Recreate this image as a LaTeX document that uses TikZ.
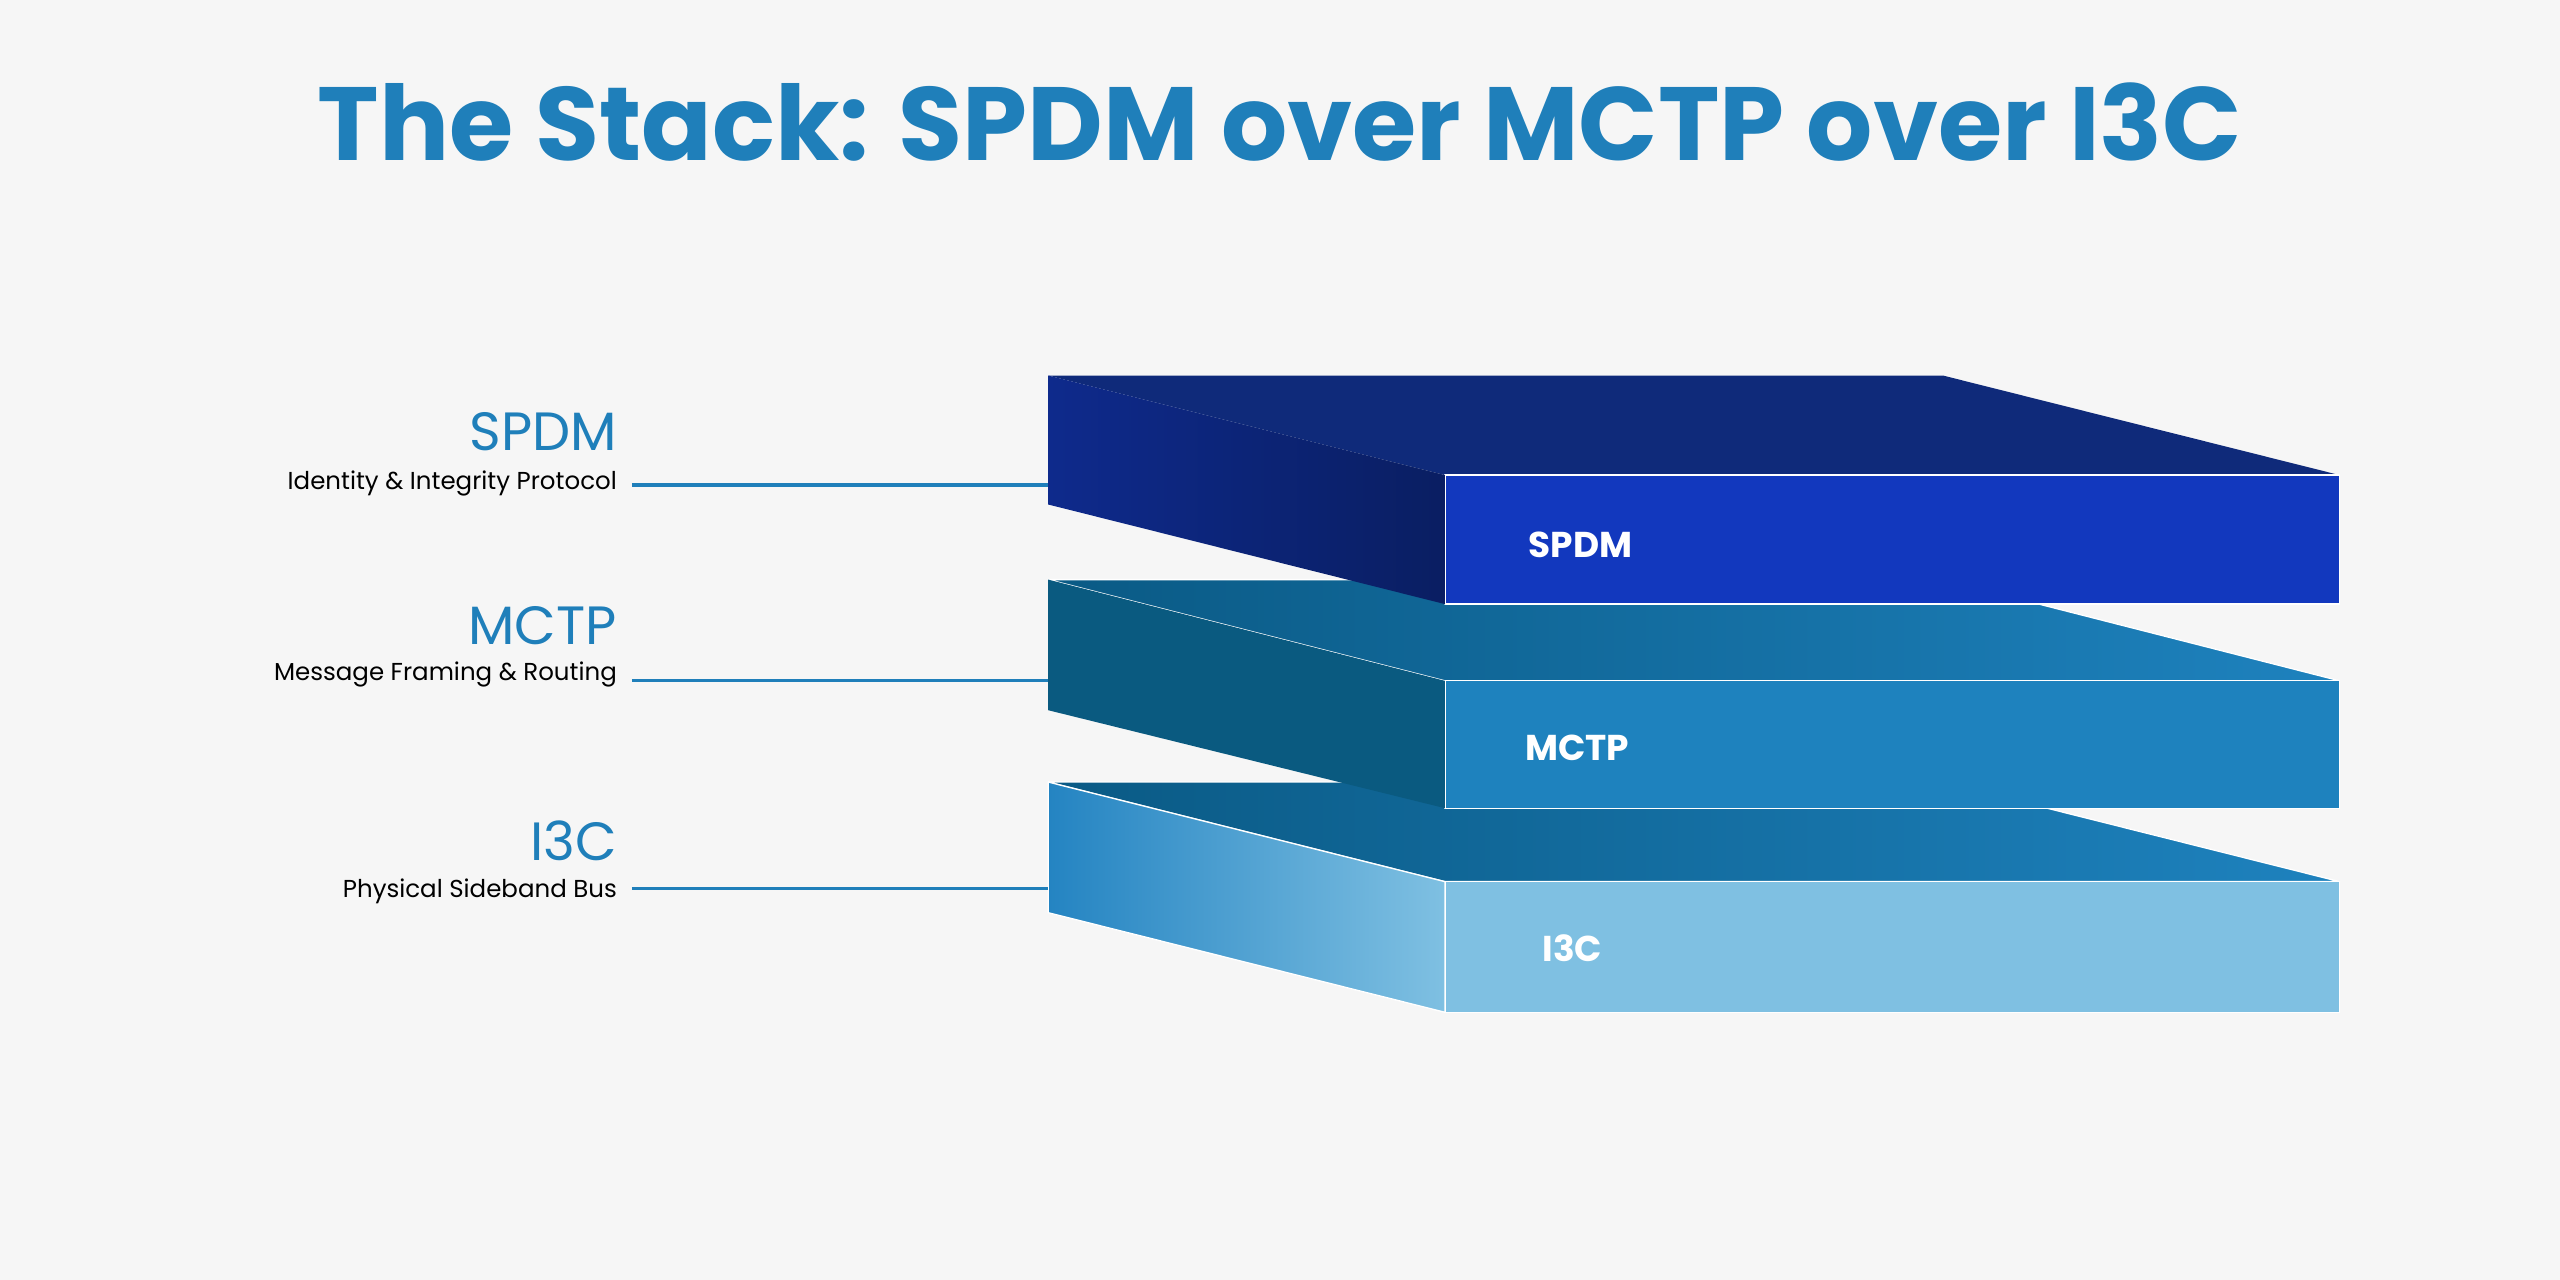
\documentclass[tikz,border=0pt]{standalone}
\usepackage{fontspec}
\usepackage{graphicx}
\setmainfont{Poppins}
\definecolor{bg}{HTML}{F6F6F6}
\definecolor{ttl}{HTML}{1F7FBA}
\definecolor{sTop}{HTML}{0F2A7A}
\definecolor{sFront}{HTML}{1238BE}
\definecolor{sSideA}{HTML}{0E2A8C}
\definecolor{sSideB}{HTML}{0A1E62}
\definecolor{mTopA}{HTML}{0A5A85}
\definecolor{mFront}{HTML}{1E82BE}
\definecolor{mSide}{HTML}{0A5A80}
\definecolor{iTopA}{HTML}{0A5A85}
\definecolor{iTopB}{HTML}{1E82BE}
\definecolor{iFront}{HTML}{7FC0E2}
\definecolor{iSideA}{HTML}{2484C2}
\begin{document}
\begin{tikzpicture}[x=1pt,y=-1pt,
  face/.style={draw=white,line width=0.8pt,line join=round},
  lbl/.style={font=\bfseries\fontsize{22}{24}\selectfont,text=white,anchor=center},
  side/.style={anchor=base east,inner sep=0pt},
  big/.style={side,font=\fontsize{33}{36}\selectfont,text=ttl},
  sub/.style={side,font=\fontsize{15}{17}\selectfont,text=black},
  conn/.style={draw=ttl,line width=2pt}]
\fill[bg] (0,0) rectangle (1568,784);
\useasboundingbox (0,0) rectangle (1568,784);
\node[font=\bfseries,text=ttl] (title) at (784,75) {\resizebox{1178pt}{!}{The Stack: SPDM over MCTP over I3C}};
% I3C
\shade[face,left color=iTopA,right color=iTopB] (642,479) -- (1190,479) -- (1433,540) -- (885,540) -- cycle;
\draw[face,fill=iFront] (885,540) rectangle (1433,620);
\shade[face,left color=iSideA,right color=iFront] (642,479) -- (885,540) -- (885,620) -- (642,559) -- cycle;
% MCTP
\shade[face,left color=mTopA,right color=mFront] (642,355) -- (1190,355) -- (1433,417) -- (885,417) -- cycle;
\draw[face,fill=mFront] (885,417) rectangle (1433,495);
\fill[mSide] (642,355) -- (885,417) -- (885,495) -- (642,435) -- cycle;
\draw[white,line width=0.8pt] (885,495) -- (1433,495);
% SPDM
\fill[sTop] (642,230) -- (1190,230) -- (1433,291) -- (885,291) -- cycle;
\draw[face,fill=sFront] (885,291) rectangle (1433,370);
\shade[left color=sSideA,right color=sSideB] (642,230) -- (885,291) -- (885,370) -- (642,309) -- cycle;
\node[lbl] (fs) at (968,334) {SPDM};
\node[lbl] (fm) at (966,458) {MCTP};
\node[lbl] (fi) at (963,581) {I3C};
% left labels
\node[big] (ls) at (378,276) {SPDM};
\node[sub] (ss) at (378,300) {Identity \& Integrity Protocol};
\node[big] (lm) at (378,395) {MCTP};
\node[sub] (sm) at (378,417) {Message Framing \& Routing};
\node[big] (li) at (378,527) {I3C};
\node[sub] (si) at (378,550) {Physical Sideband Bus};
\coordinate (a1) at (387,297); \coordinate (b1) at (642,297);
\coordinate (a2) at (387,417); \coordinate (b2) at (642,417);
\coordinate (a3) at (387,544); \coordinate (b3) at (642,544);
\draw[conn] (a1) -- (b1);
\draw[conn] (a2) -- (b2);
\draw[conn] (a3) -- (b3);
\end{tikzpicture}
\end{document}
